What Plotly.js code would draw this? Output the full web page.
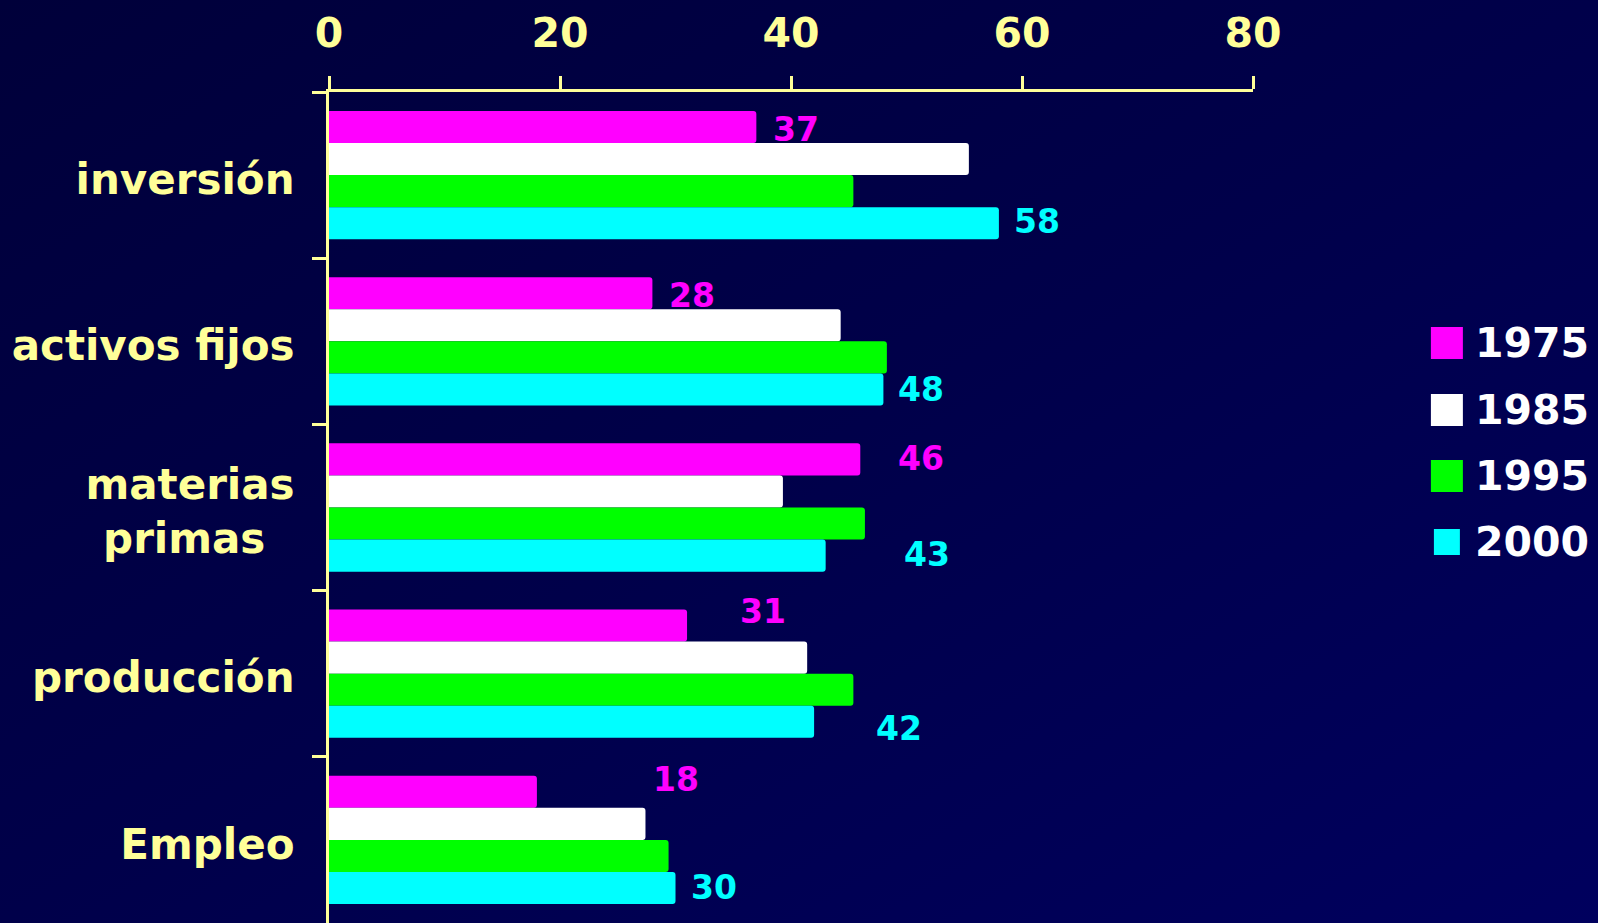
<!DOCTYPE html>
<html>
<head>
<meta charset="utf-8">
<script src="https://cdn.plot.ly/plotly-3.0.1.min.js"></script>
<style>
html,body{margin:0;padding:0;width:1598px;height:923px;overflow:hidden;
background:linear-gradient(to bottom right,#00003a 0%,#00004a 50%,#00005e 100%);}
#chart{width:1598px;height:923px;}
</style>
</head>
<body>
<div id="chart"></div>
<script>
// ---- data ----
const categories = ["inversión", "activos fijos", "materias<br>primas\u00a0\u00a0", "producción", "Empleo"];
const seriesNames = ["1975", "1985", "1995", "2000"];
const v1975 = [37, 28, 46, 31, 18];
const v1985 = [55.4, 44.3, 39.3, 41.4, 27.4];
const v1995 = [45.4, 48.3, 46.4, 45.4, 29.4];
const v2000 = [58, 48, 43, 42, 30];
const xTicks = [0, 20, 40, 60, 80];

// ---- styles ----
const colors = ["#ff00ff", "#ffffff", "#00ff00", "#00ffff"];
const axisColor = "#ffff99";
const fontFam = "DejaVu Sans, Verdana, sans-serif";
// label nudges (pixels): [xshift, yshift]
const nudge1975 = [[15, 46], [15, 46], [36, 49], [51, 62], [114, 60]];
const nudge2000 = [[13, -46], [13, -48], [76, -47], [60, -55], [13, -48]];

const allValues = [v1975, v1985, v1995, v2000];
const traces = allValues.map((vals, i) => ({
  type: "bar",
  orientation: "h",
  name: seriesNames[i],
  y: categories,
  x: vals,
  marker: {color: colors[i], cornerradius: 3, line: {width: 0}},
  showlegend: false,
  hoverinfo: "skip"
}));

const annotations = [];
function addLabels(vals, nudges, color) {
  vals.forEach((v, k) => {
    annotations.push({
      x: v, y: categories[k], xref: "x", yref: "y",
      text: String(v), showarrow: false,
      xanchor: "left", yanchor: "middle",
      xshift: nudges[k][0], yshift: nudges[k][1],
      font: {family: fontFam, size: 33, color: color, weight: 700}
    });
  });
}
addLabels(v1975, nudge1975, colors[0]);
addLabels(v2000, nudge2000, colors[3]);

// custom legend (paper coords)
const plotL = 329, plotR = 1253.5, plotT = 92, plotB = 923;
const px = p => (p - plotL) / (plotR - plotL);
const py = p => (plotB - p) / (plotB - plotT);
const legendRowsY = [343, 410, 476, 542];
const swatchSize = [32, 32, 32, 26];
const shapes = [];
seriesNames.forEach((nm, i) => {
  const cy = legendRowsY[i];
  const s = swatchSize[i];
  const cx = 1447.5;
  shapes.push({
    type: "rect", xref: "paper", yref: "paper",
    x0: px(cx - s / 2), x1: px(cx + s / 2),
    y0: py(cy + s / 2), y1: py(cy - s / 2),
    fillcolor: colors[i], line: {width: 0}
  });
  annotations.push({
    xref: "paper", yref: "paper", x: px(1474), y: py(cy),
    text: nm, showarrow: false, xanchor: "left", yanchor: "middle",
    font: {family: fontFam, size: 41, color: "#ffffff", weight: 700}
  });
});

const layout = {
  width: 1598, height: 923,
  margin: {l: plotL, r: 1598 - plotR, t: plotT, b: 0, pad: 0},
  paper_bgcolor: "rgba(0,0,0,0)",
  plot_bgcolor: "rgba(0,0,0,0)",
  barmode: "group",
  bargap: 0.228,
  bargroupgap: 0,
  showlegend: false,
  xaxis: {
    side: "top", range: [0, 80], tickvals: xTicks, ticktext: xTicks.map(String),
    ticks: "outside", ticklen: 13, tickwidth: 3, tickcolor: axisColor,
    showline: true, linecolor: axisColor, linewidth: 3,
    showgrid: false, zeroline: false, fixedrange: true,
    ticklabelstandoff: 13,
    tickfont: {family: fontFam, size: 41, color: axisColor, weight: 700}
  },
  yaxis: {
    type: "category", autorange: "reversed",
    tickson: "boundaries", ticks: "outside", ticklen: 14, tickwidth: 3, tickcolor: axisColor,
    showline: true, linecolor: axisColor, linewidth: 3,
    showgrid: false, zeroline: false, fixedrange: true,
    ticklabelstandoff: 23,
    ticklabelshift: -4,
    tickfont: {family: fontFam, size: 42, color: axisColor, weight: 700}
  },
  annotations: annotations,
  shapes: shapes
};

Plotly.newPlot("chart", traces, layout, {staticPlot: true, displayModeBar: false});
</script>
</body>
</html>
